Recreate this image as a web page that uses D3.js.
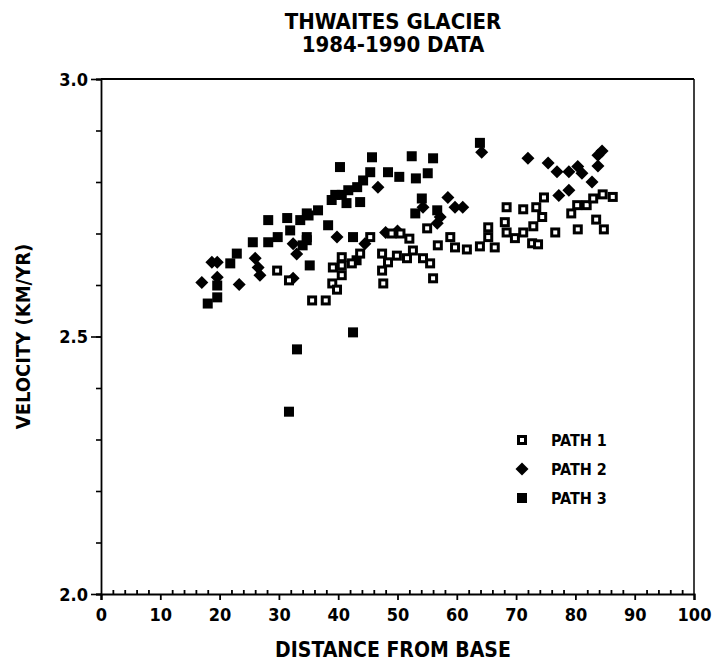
<!DOCTYPE html>
<html><head><meta charset="utf-8">
<script src="https://cdn.jsdelivr.net/npm/d3@7"></script>
<style>
body{margin:0;background:#fff;}
text{font-family:"DejaVu Sans Condensed","DejaVu Sans",sans-serif;font-weight:bold;font-stretch:condensed;fill:#000;}
</style></head>
<body><svg id="c" width="713" height="661"></svg>
<script>
const titleLines = ["THWAITES GLACIER", "1984-1990 DATA"];
const xLabel = "DISTANCE FROM BASE";
const yLabel = "VELOCITY (KM/YR)";
const xTicks = [0,10,20,30,40,50,60,70,80,90,100];
const yTickLabels = [2.0, 2.5, 3.0];
const seriesNames = ["PATH 1", "PATH 2", "PATH 3"];

const path1 = [
 [29.7,2.628],[31.7,2.609],[35.6,2.570],[37.9,2.570],[40.6,2.654],[43.7,2.661],[42.3,2.642],
 [40.6,2.638],[39.1,2.634],[40.6,2.619],[39.0,2.603],[39.8,2.591],[45.4,2.693],[47.4,2.661],
 [48.4,2.644],[47.4,2.628],[47.6,2.603],[49.9,2.657],[51.6,2.652],[52.6,2.667],[54.3,2.652],
 [55.5,2.642],[56.0,2.613],[55.0,2.710],[58.9,2.693],[56.8,2.677],[59.7,2.673],[61.7,2.669],
 [63.9,2.675],[65.3,2.693],[66.4,2.673],[65.3,2.712],[68.1,2.722],[68.4,2.702],[69.8,2.691],
 [71.2,2.702],[72.9,2.714],[74.4,2.732],[68.4,2.751],[71.2,2.747],[73.4,2.751],[74.7,2.770],
 [72.7,2.681],[73.7,2.679],[76.6,2.702],[80.4,2.708],[79.3,2.739],[80.3,2.755],[81.9,2.755],
 [83.0,2.768],[84.6,2.776],[86.3,2.771],[83.5,2.727],[84.8,2.708],[49.0,2.700],[50.5,2.700],
 [52.0,2.690]
];
const path2 = [
 [17.0,2.605],[18.7,2.644],[19.6,2.644],[19.6,2.615],[23.3,2.601],[26.0,2.652],[26.5,2.634],
 [26.8,2.619],[32.4,2.680],[33.0,2.660],[32.4,2.613],[39.8,2.693],[46.7,2.790],[58.5,2.770],
 [59.7,2.751],[61.0,2.751],[54.3,2.751],[57.2,2.732],[56.7,2.720],[64.2,2.858],[72.0,2.846],
 [75.4,2.837],[76.9,2.820],[78.9,2.820],[80.4,2.830],[81.1,2.817],[84.5,2.860],[83.8,2.852],
 [83.8,2.831],[82.8,2.800],[77.2,2.774],[78.9,2.784],[48.0,2.702],[50.0,2.705],[44.5,2.680]
];
const path3 = [
 [18.0,2.564],[19.6,2.576],[19.6,2.599],[21.8,2.642],[22.9,2.661],[25.6,2.683],[28.2,2.683],
 [29.8,2.693],[28.2,2.726],[31.4,2.730],[31.9,2.706],[33.6,2.726],[35.0,2.735],[36.6,2.745],
 [34.7,2.687],[38.3,2.716],[34.7,2.739],[34.7,2.693],[34.0,2.677],[35.2,2.638],[38.9,2.765],
 [39.5,2.775],[40.3,2.829],[40.6,2.775],[41.7,2.784],[43.2,2.790],[41.4,2.759],[43.7,2.761],
 [44.2,2.803],[45.4,2.819],[45.7,2.848],[48.4,2.819],[50.3,2.810],[52.4,2.850],[53.1,2.807],
 [55.1,2.817],[56.0,2.846],[54.1,2.768],[53.0,2.739],[56.7,2.745],[63.9,2.876],[42.5,2.693],
 [43.1,2.648],[33.05,2.475],[42.5,2.508],[31.7,2.354]
];

const svg = d3.select("#c");
const L = 101, R = 694, T = 79, B = 594;
const x = d3.scaleLinear().domain([0,100]).range([L,R]);
const y = d3.scaleLinear().domain([2.0,3.0]).range([B,T]);

// titles
svg.selectAll("text.title").data(titleLines).enter().append("text")
  .attr("class","title").attr("x",393).attr("y",(d,i)=>29+i*23)
  .attr("text-anchor","middle").style("font-size","22px").text(d=>d);

// frame
svg.append("line").attr("x1",L).attr("x2",R).attr("y1",T).attr("y2",T).attr("stroke","#000").attr("stroke-width",2.2);
svg.append("line").attr("x1",R).attr("x2",R).attr("y1",T).attr("y2",B).attr("stroke","#000").attr("stroke-width",1.5);

// x axis (major outside, minor inside)
const gx = svg.append("g").attr("transform",`translate(0,${B})`);
gx.call(d3.axisBottom(x).tickValues(xTicks).tickSize(6).tickFormat(d3.format("d")));
gx.append("g").call(d3.axisTop(x).tickValues(d3.range(0,101,2).filter(v=>v%10)).tickSize(4).tickFormat(""))
  .call(g=>g.select(".domain").remove());
gx.selectAll(".domain").attr("stroke-width",2.2);
gx.selectAll("line").attr("stroke-width",1.8);
gx.selectAll("text").style("font-size","18px").attr("y",11).attr("dy","0.9em");

// y axis
const gy = svg.append("g").attr("transform",`translate(${L},0)`);
gy.call(d3.axisLeft(y).tickValues(d3.range(2.0,3.001,0.1)).tickSize(5).tickFormat(""));
gy.selectAll(".tick line").attr("stroke-width",1.6);
gy.selectAll(".domain").attr("stroke-width",1.8);
gy.append("g").call(d3.axisLeft(y).tickValues(yTickLabels).tickSize(10).tickFormat(d3.format(".1f")))
  .call(g=>g.select(".domain").remove())
  .call(g=>g.selectAll("text").style("font-size","18px").attr("x",-13).attr("dy","0.35em"))
  .call(g=>g.selectAll("line").attr("stroke-width",1.6));

// axis labels
svg.append("text").attr("x",393).attr("y",657).attr("text-anchor","middle").style("font-size","21px").text(xLabel);
svg.append("text").attr("transform",`translate(30,${(T+B)/2}) rotate(-90)`).attr("text-anchor","middle").style("font-size","20px").text(yLabel);

// markers
const S = 10;
function sq1(g){ g.append("rect").attr("x",-S/2).attr("y",-S/2).attr("width",S).attr("height",S).attr("fill","#000");
  g.append("rect").attr("x",-2).attr("y",-2).attr("width",4).attr("height",4).attr("fill","#fff"); }
function dia(g){ g.append("path").attr("d","M0,-6.5L6.5,0L0,6.5L-6.5,0Z").attr("fill","#000"); }
function sq3(g){ g.append("rect").attr("x",-S/2).attr("y",-S/2).attr("width",S).attr("height",S).attr("fill","#000"); }

const plot = svg.append("g");
[[path3,sq3],[path2,dia],[path1,sq1]].forEach(([data,fn])=>{
  plot.append("g").selectAll("g").data(data).enter().append("g")
    .attr("transform",d=>`translate(${x(d[0])},${y(d[1])})`).each(function(){fn(d3.select(this));});
});

// legend
const leg = svg.append("g");
const legMarks = [sq1,dia,sq3];
seriesNames.forEach((n,i)=>{
  const gy0 = 440 + i*29;
  const m = leg.append("g").attr("transform",`translate(522,${gy0})`); legMarks[i](m);
  leg.append("text").attr("x",551).attr("y",gy0).attr("dy","0.36em").style("font-size","16px").text(n);
});
</script></body></html>
